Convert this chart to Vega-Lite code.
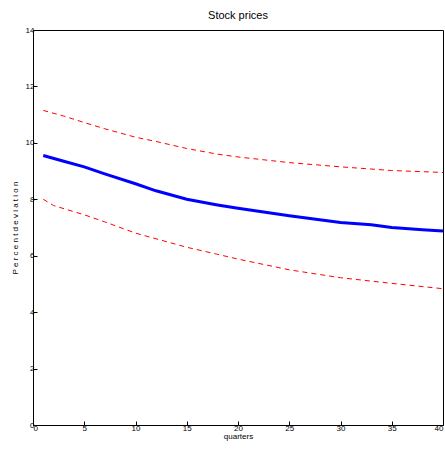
{
  "$schema": "https://vega.github.io/schema/vega-lite/v6.json",
  "autosize": "none",
  "padding": {"left": 33, "top": 30, "right": 2, "bottom": 32},
  "width": 410,
  "height": 395,
  "title": {"text": "Stock prices", "font": "Liberation Sans", "fontSize": 11, "fontWeight": "normal", "offset": 5},
  "data": {
    "values": [
      {"q": 1, "s": "irf", "v": 9.55}, {"q": 3, "s": "irf", "v": 9.35}, {"q": 5, "s": "irf", "v": 9.15}, {"q": 7, "s": "irf", "v": 8.9}, {"q": 10, "s": "irf", "v": 8.55}, {"q": 12, "s": "irf", "v": 8.3}, {"q": 15, "s": "irf", "v": 8.0}, {"q": 18, "s": "irf", "v": 7.8}, {"q": 20, "s": "irf", "v": 7.68}, {"q": 25, "s": "irf", "v": 7.42}, {"q": 30, "s": "irf", "v": 7.18}, {"q": 33, "s": "irf", "v": 7.1}, {"q": 35, "s": "irf", "v": 7.0}, {"q": 38, "s": "irf", "v": 6.92}, {"q": 40, "s": "irf", "v": 6.88},
      {"q": 1, "s": "hi", "v": 11.15}, {"q": 3, "s": "hi", "v": 10.95}, {"q": 5, "s": "hi", "v": 10.72}, {"q": 7, "s": "hi", "v": 10.5}, {"q": 10, "s": "hi", "v": 10.2}, {"q": 12, "s": "hi", "v": 10.05}, {"q": 15, "s": "hi", "v": 9.8}, {"q": 18, "s": "hi", "v": 9.6}, {"q": 20, "s": "hi", "v": 9.5}, {"q": 25, "s": "hi", "v": 9.3}, {"q": 30, "s": "hi", "v": 9.15}, {"q": 35, "s": "hi", "v": 9.02}, {"q": 40, "s": "hi", "v": 8.95},
      {"q": 1, "s": "lo", "v": 8.0}, {"q": 2, "s": "lo", "v": 7.78}, {"q": 5, "s": "lo", "v": 7.45}, {"q": 7, "s": "lo", "v": 7.2}, {"q": 10, "s": "lo", "v": 6.8}, {"q": 12, "s": "lo", "v": 6.6}, {"q": 15, "s": "lo", "v": 6.3}, {"q": 18, "s": "lo", "v": 6.05}, {"q": 20, "s": "lo", "v": 5.88}, {"q": 25, "s": "lo", "v": 5.5}, {"q": 30, "s": "lo", "v": 5.22}, {"q": 35, "s": "lo", "v": 5.02}, {"q": 40, "s": "lo", "v": 4.83}
    ]
  },
  "encoding": {
    "x": {"field": "q", "type": "quantitative", "title": "quarters", "scale": {"domain": [0, 40], "nice": false},
      "axis": {"values": [0, 5, 10, 15, 20, 25, 30, 35, 40], "titlePadding": 0}},
    "y": {"field": "v", "type": "quantitative", "title": "P e r c e n t   d e v i a t i o n", "scale": {"domain": [0, 14], "nice": false},
      "axis": {"values": [0, 2, 4, 6, 8, 10, 12, 14], "titlePadding": 6}},
    "detail": {"field": "s"}
  },
  "layer": [
    {"transform": [{"filter": "datum.s !== 'irf'"}],
     "mark": {"type": "line", "clip": true, "color": "#ff0000", "strokeWidth": 1, "strokeDash": [5, 4]}},
    {"transform": [{"filter": "datum.s === 'irf'"}],
     "mark": {"type": "line", "clip": true, "color": "#0000ff", "strokeWidth": 3}}
  ],
  "config": {
    "view": {"stroke": "black", "strokeWidth": 1},
    "axis": {"grid": false, "domain": false, "tickColor": "black", "tickSize": -4, "labelColor": "black", "labelFont": "Liberation Sans", "labelFontSize": 8, "labelPadding": 3, "titleFont": "Liberation Sans", "titleFontSize": 8, "titleFontWeight": "normal", "titleColor": "black"}
  }
}
